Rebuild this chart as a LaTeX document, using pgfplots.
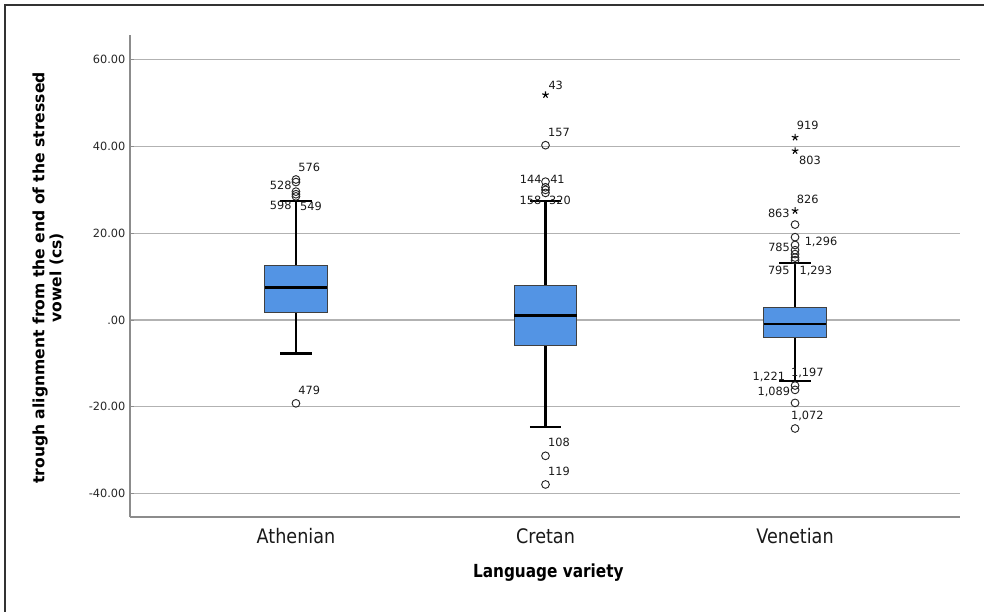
\documentclass[border=0pt]{standalone}
\usepackage{pgfplots}
\pgfplotsset{compat=1.18}
\usepgfplotslibrary{statistics}
\usepackage{fontspec}
\setmainfont{DejaVu Sans}
\newfontfamily\xlabfont{DejaVu Sans Bold}[FakeStretch=0.85]
\newfontfamily\catfont{DejaVu Sans}[FakeStretch=0.88]
\definecolor{boxblue}{RGB}{83,148,228}
\newcommand{\lab}{\fontsize{8.5}{10}\selectfont}
\begin{document}
\begin{tikzpicture}[x=1pt,y=1pt]
\useasboundingbox (0,0) rectangle (738,458.25);
\draw[black!80, line width=1.3pt] (3.75,-5) -- (3.75,454.5) -- (745,454.5);
\begin{axis}[
  at={(97.5pt,70.5pt)}, anchor=south west,
  scale only axis, width=622.5pt, height=361.5pt,
  xmin=0.335, xmax=3.661, ymin=-45.4, ymax=65.7,
  axis x line*=bottom, axis y line*=left,
  axis line style={black!45, line width=0.9pt, -},
  xtick={1,2,3}, xticklabels={Athenian,Cretan,Venetian},
  ytick={-40,-20,0,20,40,60},
  yticklabels={-40.00,-20.00,.00,20.00,40.00,60.00},
  ymajorgrids, grid style={black!30, line width=0.9pt},
  major tick length=3pt,
  ytick style={black!45, line width=0.8pt},
  xtick style={draw=none},
  yticklabel style={font=\fontsize{8.5}{10}\selectfont, text=black!85},
  xticklabel style={font=\catfont\fontsize{15}{17}\selectfont, text=black!90, yshift=-5pt},
  xlabel={Language variety},
  xlabel style={font=\xlabfont\fontsize{13.5}{15}\selectfont, at={(axis description cs:0.504,-0.116)}, anchor=center},
  ylabel={trough alignment from the end of the stressed\\vowel (cs)},
  ylabel style={font=\bfseries\fontsize{11.7}{12.75}\selectfont, align=center, at={(axis description cs:-0.0988,0.496)}, anchor=center},
  boxplot/draw direction=y,
  boxplot/every box/.style={fill=boxblue, draw=black!75, line width=0.7pt},
  boxplot/every median/.style={draw=black, line width=2.2pt},
  boxplot/every whisker/.style={draw=black, line width=1.8pt},
  clip=false,
]
% box plots
\addplot[boxplot prepared={draw position=1, lower whisker=-7.7, lower quartile=1.84, median=7.4, upper quartile=12.5, upper whisker=27.5, box extend=0.25, whisker extend=0.125}] coordinates {};
\addplot[boxplot prepared={draw position=2, lower whisker=-24.7, lower quartile=-5.84, median=1.15, upper quartile=8.07, upper whisker=27.5, box extend=0.25, whisker extend=0.125}] coordinates {};
\addplot[boxplot prepared={draw position=3, lower whisker=-14.0, lower quartile=-4.0, median=-0.92, upper quartile=2.92, upper whisker=13.1, box extend=0.25, whisker extend=0.125}] coordinates {};
% outliers
\addplot[only marks, mark=o, mark size=2.9pt, mark options={black!85, line width=0.7pt}] coordinates {
 (1,32.4) (1,31.8) (1,29.6) (1,29.0) (1,28.5) (1,-19.2)
 (2,40.3) (2,31.9) (2,30.6) (2,30.0) (2,29.3) (2,-31.3) (2,-37.9)
 (3,22.0) (3,19.1) (3,17.3) (3,16.1) (3,15.2) (3,14.4) (3,13.8) (3,-15.1) (3,-16.1) (3,-19.1) (3,-25.0)};
% extremes
\addplot[only marks, mark=star, mark size=2.6pt, mark options={black, line width=0.8pt}] coordinates {
 (2,51.9) (3,42.1) (3,39.0) (3,25.2)};
% case labels
\begin{scope}[every node/.style={font=\lab, text=black!90, inner sep=0pt, anchor=center}]
\node at (axis cs:1.053,35.20) {576};
\node at (axis cs:0.939,30.96) {528};
\node at (axis cs:0.939,26.51) {598};
\node at (axis cs:1.060,26.28) {549};
\node at (axis cs:1.053,-16.30) {479};
\node at (axis cs:2.041,54.18) {43};
\node at (axis cs:2.054,43.27) {157};
\node at (axis cs:1.941,32.44) {144};
\node at (axis cs:2.048,32.44) {41};
\node at (axis cs:1.940,27.67) {158};
\node at (axis cs:2.058,27.67) {320};
\node at (axis cs:2.054,-28.29) {108};
\node at (axis cs:2.054,-34.97) {119};
\node at (axis cs:3.051,44.96) {919};
\node at (axis cs:3.060,36.73) {803};
\node at (axis cs:3.051,27.83) {826};
\node at (axis cs:2.935,24.60) {863};
\node at (axis cs:2.936,16.76) {785};
\node at (axis cs:3.104,18.05) {1,296};
\node at (axis cs:2.935,11.37) {795};
\node at (axis cs:3.083,11.37) {1,293};
\node at (axis cs:2.895,-13.07) {1,221};
\node at (axis cs:3.049,-12.15) {1,197};
\node at (axis cs:2.915,-16.53) {1,089};
\node at (axis cs:3.049,-22.13) {1,072};
\end{scope}
\end{axis}
\end{tikzpicture}
\end{document}
